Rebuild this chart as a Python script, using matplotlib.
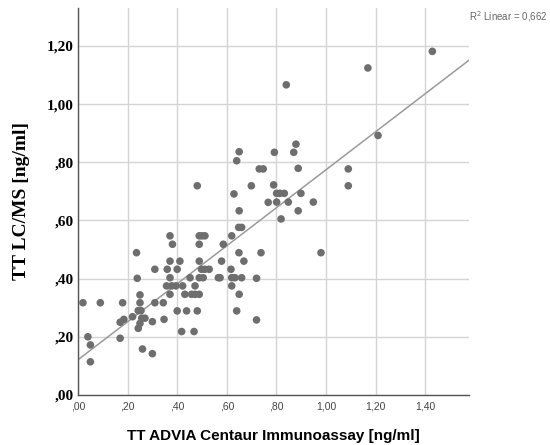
import matplotlib
matplotlib.use('Agg')
import matplotlib.pyplot as plt
import numpy as np

# data
advia = [0.02, 0.04, 0.05, 0.05, 0.09, 0.17, 0.18, 0.17, 0.185, 0.22,
         0.236, 0.239, 0.25, 0.25, 0.243, 0.254, 0.257, 0.27, 0.25, 0.243,
         0.26, 0.30, 0.30, 0.31, 0.31, 0.344, 0.347,
         0.36, 0.371, 0.381, 0.371, 0.371, 0.357, 0.378, 0.395, 0.371, 0.40,
         0.411, 0.40, 0.422, 0.418, 0.431, 0.438, 0.452, 0.458, 0.472, 0.472,
         0.468, 0.481, 0.481, 0.489, 0.489, 0.489, 0.489, 0.489, 0.50, 0.512,
         0.498, 0.512, 0.529, 0.505,
         0.566, 0.573, 0.579, 0.586, 0.62, 0.617, 0.62, 0.633, 0.66, 0.62,
         0.64, 0.65, 0.649, 0.669, 0.648, 0.66, 0.629, 0.64, 0.65, 0.65,
         0.699, 0.72, 0.72, 0.738, 0.731, 0.747, 0.767,
         0.789, 0.792, 0.801, 0.814, 0.832, 0.801, 0.819, 0.84, 0.848, 0.87,
         0.879, 0.888, 0.888, 0.899, 0.949, 0.98, 1.09, 1.09, 1.169, 1.21,
         1.429]
lcms = [0.317, 0.200, 0.172, 0.114, 0.317, 0.195, 0.317, 0.250, 0.260, 0.269,
        0.489, 0.401, 0.344, 0.317, 0.290, 0.290, 0.264, 0.264, 0.246, 0.229,
        0.158, 0.142, 0.252, 0.432, 0.317, 0.317, 0.260,
        0.432, 0.547, 0.518, 0.460, 0.403, 0.375, 0.375, 0.375, 0.346, 0.432,
        0.460, 0.289, 0.375, 0.218, 0.346, 0.289, 0.403, 0.346, 0.346, 0.375,
        0.218, 0.289, 0.719, 0.346, 0.403, 0.460, 0.518, 0.547, 0.547, 0.547,
        0.432, 0.432, 0.432, 0.403,
        0.403, 0.403, 0.460, 0.518, 0.547, 0.432, 0.403, 0.403, 0.403, 0.375,
        0.289, 0.346, 0.489, 0.460, 0.576, 0.576, 0.691, 0.805, 0.836, 0.633,
        0.719, 0.401, 0.258, 0.489, 0.777, 0.777, 0.662,
        0.722, 0.834, 0.693, 0.693, 0.693, 0.663, 0.605, 1.066, 0.663, 0.834,
        0.862, 0.779, 0.633, 0.693, 0.663, 0.489, 0.777, 0.719, 1.124, 0.892,
        1.181]

# fit line as drawn in the picture
fit_intercept = 0.121
fit_slope = 0.653
r2_text = 'R$^2$ Linear = 0,662'

x_ticks = [0.0, 0.2, 0.4, 0.6, 0.8, 1.0, 1.2, 1.4]
x_labels = [',00', ',20', ',40', ',60', ',80', '1,00', '1,20', '1,40']
y_ticks = [0.0, 0.2, 0.4, 0.6, 0.8, 1.0, 1.2]
y_labels = [',00', ',20', ',40', ',60', ',80', '1,00', '1,20']

fig = plt.figure(figsize=(5.5, 4.45), dpi=100)
ax = fig.add_axes([0.1418, 0.1124, 0.711, 0.8696])

xmax = 1.577
ymax = 1.33
ax.set_xlim(0, xmax)
ax.set_ylim(0, ymax)

ax.grid(True, color='#d4d4d4', linewidth=1.0)
ax.set_axisbelow(True)

xs = np.array([0, xmax])
ax.plot(xs, fit_intercept + fit_slope * xs, color='#9a9a9a', linewidth=1.1, zorder=2)
ax.scatter(advia, lcms, s=30, color='#6e6e6e', edgecolors='none', zorder=3)

ax.set_xticks(x_ticks)
ax.set_xticklabels(x_labels, fontsize=7.5, color='#444444', family='Liberation Sans')
ax.set_yticks(y_ticks)
ax.set_yticklabels(y_labels, fontsize=11, fontweight='bold', family='Liberation Serif')
ax.tick_params(axis='y', length=0, pad=3)
ax.tick_params(axis='x', length=0, pad=5)

for s in ['top', 'right']:
    ax.spines[s].set_visible(False)
for s in ['left', 'bottom']:
    ax.spines[s].set_color('#555555')
    ax.spines[s].set_linewidth(1.0)

ax.set_xlabel('TT ADVIA Centaur Immunoassay [ng/ml]', fontsize=11, fontweight='bold',
              family='Liberation Sans', labelpad=12)
ax.set_ylabel('TT LC/MS [ng/ml]', fontsize=14, fontweight='bold',
              family='Liberation Serif', labelpad=12)

# R2 note, kept inside the figure edge
fig.text(0.996, 0.962, r2_text, fontsize=7, color='#666666',
         family='Liberation Sans', va='center', ha='right')

plt.savefig('out.png', dpi=100)
